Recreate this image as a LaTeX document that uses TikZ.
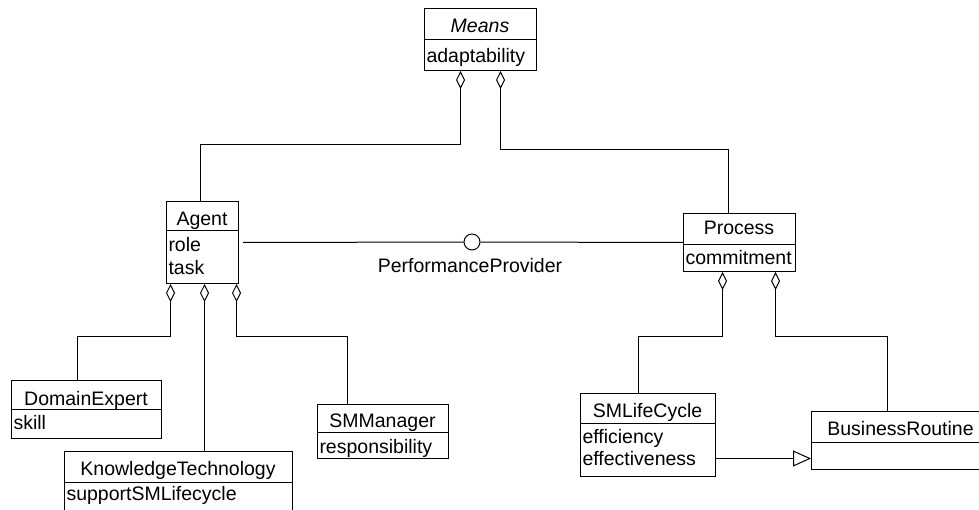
\documentclass[tikz,border=0pt]{standalone}
\usepackage{fontspec}
\setmainfont{Liberation Sans}
\usetikzlibrary{arrows.meta}

\begin{document}
\begin{tikzpicture}[x=1pt, y=-1pt, line width=1pt,
    font=\fontsize{19.5}{22}\selectfont,
    box/.style={draw, anchor=north west, inner sep=0pt},
    ctitle/.style={anchor=base, inner sep=0pt},
    cattr/.style={anchor=base west, inner sep=0pt},
    aggr/.style={-{Diamond[open,length=18pt,width=9pt]}},
    gener/.style={-{Triangle[open,length=18pt,width=16pt]}}]
    \useasboundingbox (0,0) rectangle (979,510);
    \clip (0,0) rectangle (979,510);
      % classes
      \node[box, minimum width=112, minimum height=62] (Means) at (424, 8) {};
      \node[ctitle] (MeansT) at (480, 33) {\itshape Means};
      \node[cattr] (MeansA) at (426, 63) {adaptability};
      \draw ([yshift=-32]Means.north west) -- ([yshift=-32]Means.north east);

      \node[box, minimum width=72, minimum height=82] (Agent) at (166, 201) {};
      \node[ctitle] (AgentT) at (202, 226) {Agent};
      \node[cattr] (AgentA) at (168, 252) {role};
      \node[cattr] (AgentB) at (168, 275) {task};
      \draw ([yshift=-30]Agent.north west) -- ([yshift=-30]Agent.north east);

      \node[box, minimum width=112, minimum height=58] (Proc) at (683, 213) {};
      \node[ctitle] (ProcT) at (739, 235) {Process};
      \node[cattr] (ProcA) at (685, 265) {commitment};
      \draw ([yshift=-32]Proc.north west) -- ([yshift=-32]Proc.north east);

      \node[box, minimum width=150, minimum height=58] (DomExp) at (11, 380) {};
      \node[ctitle] (DomExpT) at (86, 405) {DomainExpert};
      \node[cattr] (DomExpA) at (13, 429) {skill};
      \draw ([yshift=-29]DomExp.north west) -- ([yshift=-29]DomExp.north east);

      \node[box, minimum width=228, minimum height=80] (KnowTech) at (64, 451) {};
      \node[ctitle] (KnowTechT) at (178, 475) {KnowledgeTechnology};
      \node[cattr] (KnowTechA) at (66, 500) {supportSMLifecycle};
      \draw ([yshift=-31]KnowTech.north west) -- ([yshift=-31]KnowTech.north east);

      \node[box, minimum width=131, minimum height=54] (SMMan) at (317, 404) {};
      \node[ctitle] (SMManT) at (382.5, 427) {SMManager};
      \node[cattr] (SMManA) at (319, 453) {responsibility};
      \draw ([yshift=-28]SMMan.north west) -- ([yshift=-28]SMMan.north east);

      \node[box, minimum width=135, minimum height=83] (LifeCyc) at (580, 393) {};
      \node[ctitle] (LifeCycT) at (647.5, 417) {SMLifeCycle};
      \node[cattr] (LifeCycA) at (582, 443) {efficiency};
      \node[cattr] (LifeCycB) at (582, 465) {effectiveness};
      \draw ([yshift=-30]LifeCyc.north west) -- ([yshift=-30]LifeCyc.north east);

      \node[box, minimum width=179, minimum height=58] (BizRout) at (811, 411) {};
      \node[ctitle] (BizRoutT) at (900.5, 435) {BusinessRoutine};
      \draw ([yshift=-31]BizRout.north west) -- ([yshift=-31]BizRout.north east);

      % interface
      \node[draw, circle, minimum size=16, inner sep=0pt, fill=white] (PP) at (472, 242) {};
      \node[ctitle] (PPL) at (470, 273) {PerformanceProvider};
      \draw ([xshift=4]Agent.east) -- (PP);
      \draw (PP) -- (Proc.west);

      % aggregations
      \draw[aggr] ([xshift=-2]Agent.north) -- ++(0,-56) -| ([xshift=-20]Means.south);
      \draw[aggr] ([xshift=-11]Proc.north) -- ++(0,-63) -| ([xshift=20]Means.south);
      \draw[aggr] ([xshift=-9]DomExp.north) -- ++(0,-44) -| ([xshift=-32]Agent.south);
      \draw[aggr] ([xshift=26]KnowTech.north) -- ([xshift=2]Agent.south);
      \draw[aggr] ([xshift=-35.5]SMMan.north) -- ++(0,-68) -| ([xshift=34]Agent.south);
      \draw[aggr] ([xshift=-9.5]LifeCyc.north) -- ++(0,-57) -| ([xshift=-17]Proc.south);
      \draw[aggr] ([xshift=-13.5]BizRout.north) -- ++(0,-75) -| ([xshift=36]Proc.south);

      % generalisation
      \draw[gener] ([yshift=-23.5]LifeCyc.east) -- ([yshift=-23.5]LifeCyc.east -| BizRout.west);
\end{tikzpicture}
\end{document}
